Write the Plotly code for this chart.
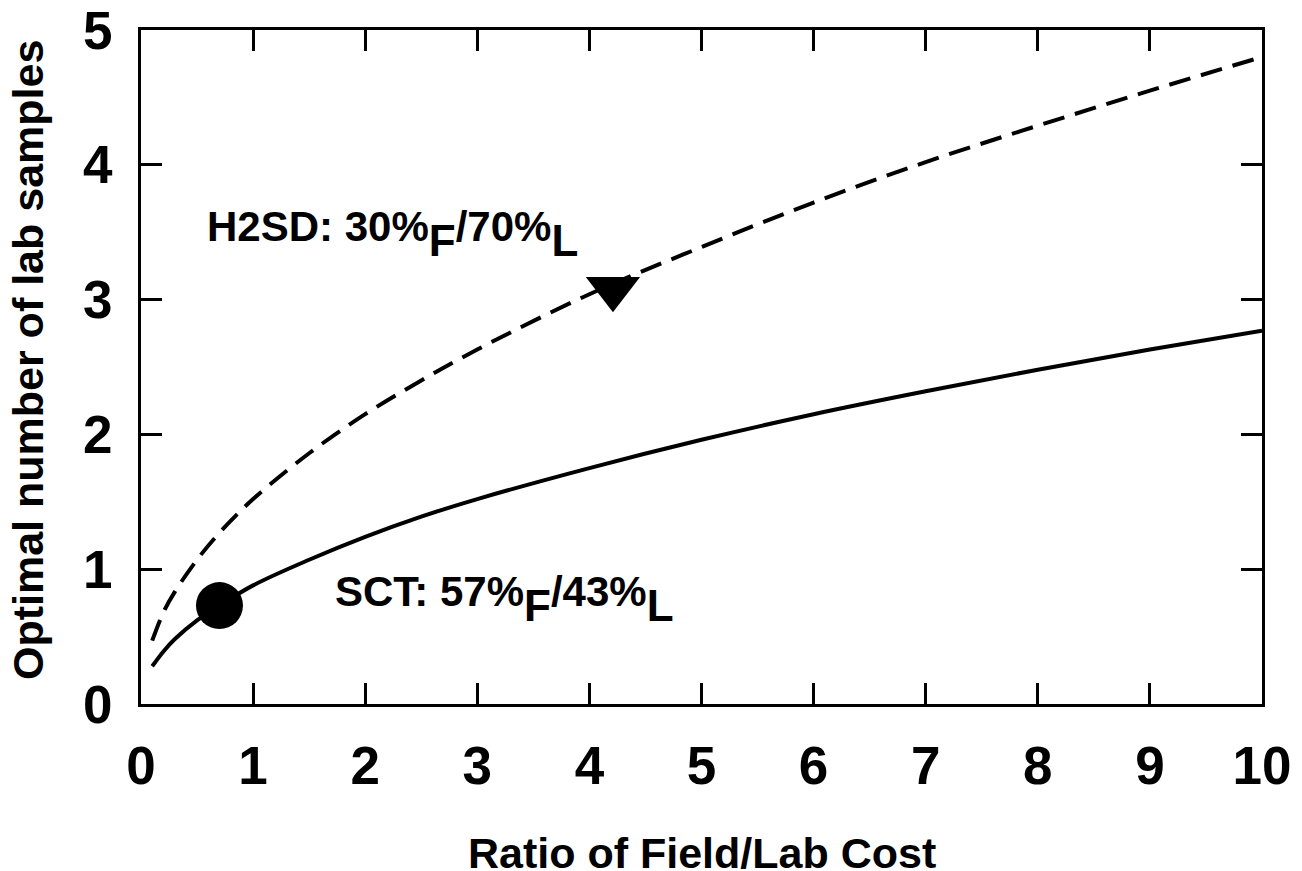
import plotly.graph_objects as go

# Ratio of field/lab cost (x) and read-off curve values
ratio = [0.1, 0.2, 0.3, 0.5, 0.7, 1.0, 1.5, 2.0, 2.5, 3.0, 4.0, 5.0, 6.0, 7.0, 8.0, 9.0, 10.0]
sct_samples = [0.28, 0.39, 0.48, 0.62, 0.73, 0.88, 1.07, 1.24, 1.39, 1.52, 1.75, 1.96, 2.15, 2.32, 2.48, 2.63, 2.77]
h2sd_samples = [0.47, 0.68, 0.83, 1.07, 1.27, 1.52, 1.86, 2.15, 2.40, 2.63, 3.04, 3.39, 3.72, 4.02, 4.29, 4.55, 4.80]

# Highlighted points
sct_point_x = [0.70]
sct_point_y = [0.73]
h2sd_point_x = [4.21]
h2sd_point_y = [3.08]

x_ticks = [0, 1, 2, 3, 4, 5, 6, 7, 8, 9, 10]
y_ticks = [0, 1, 2, 3, 4, 5]

FONT = "Liberation Sans, Arial, sans-serif"

fig = go.Figure()
fig.add_trace(go.Scatter(x=ratio, y=h2sd_samples, mode="lines",
                         line=dict(color="black", width=4, dash="22px,11px", shape="spline"),
                         showlegend=False, hoverinfo="skip"))
fig.add_trace(go.Scatter(x=ratio, y=sct_samples, mode="lines",
                         line=dict(color="black", width=4, shape="spline"),
                         showlegend=False, hoverinfo="skip"))
fig.add_trace(go.Scatter(x=sct_point_x, y=sct_point_y, mode="markers",
                         marker=dict(symbol="circle", size=47, color="black"),
                         showlegend=False))
fig.add_trace(go.Scatter(x=h2sd_point_x, y=h2sd_point_y, mode="markers",
                         marker=dict(symbol="triangle-down", size=47, color="black"),
                         showlegend=False))

axis_common = dict(
    showline=True, linecolor="black", linewidth=3, mirror="ticks",
    ticks="inside", ticklen=21, tickwidth=3, tickcolor="black",
    showgrid=False, zeroline=False, automargin=False, ticklabeloverflow="allow",
    tickfont=dict(family=FONT, size=53, color="black", weight="bold"),
)

fig.update_xaxes(range=[0, 10], tickvals=x_ticks, ticktext=[str(v) for v in x_ticks],
                 ticklabelstandoff=13, **axis_common)
fig.update_yaxes(range=[0, 5], tickvals=y_ticks, ticktext=[str(v) for v in y_ticks],
                 ticklabelstandoff=15, **axis_common)

sub = '<sub><sub><span style="font-size:44px">{}</span></sub></sub>'
fig.add_annotation(x=0.57, y=3.49, xref="x", yref="y", xanchor="left", yanchor="middle",
                   text="H2SD: 30%" + sub.format("F") + "/70%" + sub.format("L"),
                   showarrow=False, font=dict(family=FONT, size=42, color="black", weight="bold"))
fig.add_annotation(x=1.71, y=0.78, xref="x", yref="y", xanchor="left", yanchor="middle",
                   text="SCT: 57%" + sub.format("F") + "/43%" + sub.format("L"),
                   showarrow=False, font=dict(family=FONT, size=42, color="black", weight="bold"))

fig.add_annotation(x=0.5, y=-0.221, xref="paper", yref="paper", xanchor="center", yanchor="middle",
                   text="Ratio of Field/Lab Cost", showarrow=False,
                   font=dict(family=FONT, size=43, color="black", weight="bold"))
fig.add_annotation(x=-0.101, y=0.51, xref="paper", yref="paper", xanchor="center", yanchor="middle",
                   text="Optimal number of lab samples", showarrow=False, textangle=-90,
                   font=dict(family=FONT, size=43, color="black", weight="bold"))

# page body has an 8px margin: figure is 8px smaller, left/top margins shifted
fig.update_layout(
    width=1294, height=863,
    margin=dict(l=133, r=40, t=22, b=167),
    paper_bgcolor="white", plot_bgcolor="white",
)

fig.write_html("out.html")
